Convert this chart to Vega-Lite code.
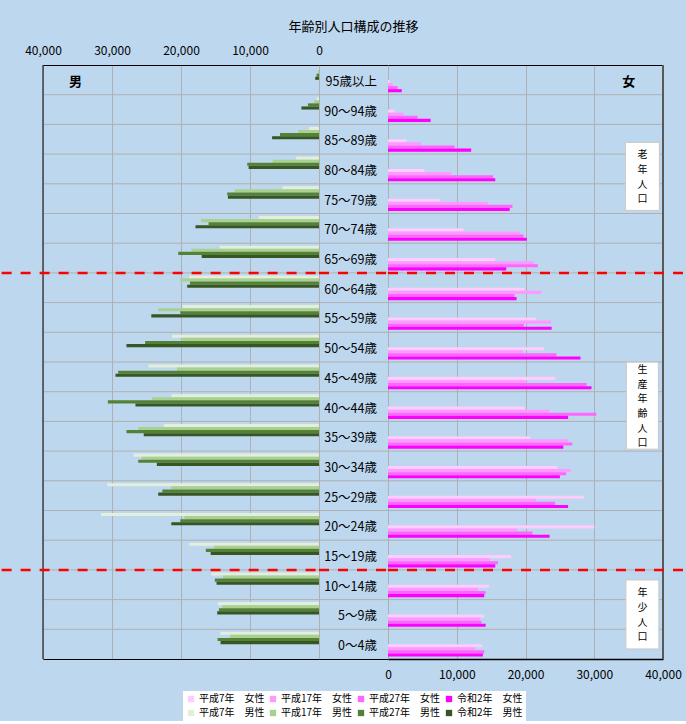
{
  "$schema": "https://vega.github.io/schema/vega-lite/v6.json",
  "background": "#bdd7ee",
  "padding": {"left": 0, "top": 21, "right": 0, "bottom": 0},
  "bounds": "flush",
  "spacing": 0,
  "datasets": {
    "male": [
      {"age": "95歳以上", "series": "平成7年　男性", "pop": 50}, {"age": "95歳以上", "series": "平成17年　男性", "pop": 150}, {"age": "95歳以上", "series": "平成27年　男性", "pop": 350}, {"age": "95歳以上", "series": "令和2年　男性", "pop": 550},
      {"age": "90～94歳", "series": "平成7年　男性", "pop": 330}, {"age": "90～94歳", "series": "平成17年　男性", "pop": 700}, {"age": "90～94歳", "series": "平成27年　男性", "pop": 1600}, {"age": "90～94歳", "series": "令和2年　男性", "pop": 2550},
      {"age": "85～89歳", "series": "平成7年　男性", "pop": 1450}, {"age": "85～89歳", "series": "平成17年　男性", "pop": 3000}, {"age": "85～89歳", "series": "平成27年　男性", "pop": 5650}, {"age": "85～89歳", "series": "令和2年　男性", "pop": 6800},
      {"age": "80～84歳", "series": "平成7年　男性", "pop": 3300}, {"age": "80～84歳", "series": "平成17年　男性", "pop": 6700}, {"age": "80～84歳", "series": "平成27年　男性", "pop": 10400}, {"age": "80～84歳", "series": "令和2年　男性", "pop": 10200},
      {"age": "75～79歳", "series": "平成7年　男性", "pop": 5300}, {"age": "75～79歳", "series": "平成17年　男性", "pop": 12200}, {"age": "75～79歳", "series": "平成27年　男性", "pop": 13300}, {"age": "75～79歳", "series": "令和2年　男性", "pop": 13200},
      {"age": "70～74歳", "series": "平成7年　男性", "pop": 8750}, {"age": "70～74歳", "series": "平成17年　男性", "pop": 17100}, {"age": "70～74歳", "series": "平成27年　男性", "pop": 16000}, {"age": "70～74歳", "series": "令和2年　男性", "pop": 17900},
      {"age": "65～69歳", "series": "平成7年　男性", "pop": 14400}, {"age": "65～69歳", "series": "平成17年　男性", "pop": 18500}, {"age": "65～69歳", "series": "平成27年　男性", "pop": 20400}, {"age": "65～69歳", "series": "令和2年　男性", "pop": 17000},
      {"age": "60～64歳", "series": "平成7年　男性", "pop": 18800}, {"age": "60～64歳", "series": "平成17年　男性", "pop": 20100}, {"age": "60～64歳", "series": "平成27年　男性", "pop": 18700}, {"age": "60～64歳", "series": "令和2年　男性", "pop": 19100},
      {"age": "55～59歳", "series": "平成7年　男性", "pop": 19800}, {"age": "55～59歳", "series": "平成17年　男性", "pop": 23300}, {"age": "55～59歳", "series": "平成27年　男性", "pop": 20100}, {"age": "55～59歳", "series": "令和2年　男性", "pop": 24300},
      {"age": "50～54歳", "series": "平成7年　男性", "pop": 21300}, {"age": "50～54歳", "series": "平成17年　男性", "pop": 19800}, {"age": "50～54歳", "series": "平成27年　男性", "pop": 25200}, {"age": "50～54歳", "series": "令和2年　男性", "pop": 27900},
      {"age": "45～49歳", "series": "平成7年　男性", "pop": 24700}, {"age": "45～49歳", "series": "平成17年　男性", "pop": 20600}, {"age": "45～49歳", "series": "平成27年　男性", "pop": 29100}, {"age": "45～49歳", "series": "令和2年　男性", "pop": 29500},
      {"age": "40～44歳", "series": "平成7年　男性", "pop": 21400}, {"age": "40～44歳", "series": "平成17年　男性", "pop": 24200}, {"age": "40～44歳", "series": "平成27年　男性", "pop": 30600}, {"age": "40～44歳", "series": "令和2年　男性", "pop": 26600},
      {"age": "35～39歳", "series": "平成7年　男性", "pop": 22500}, {"age": "35～39歳", "series": "平成17年　男性", "pop": 26200}, {"age": "35～39歳", "series": "平成27年　男性", "pop": 27900}, {"age": "35～39歳", "series": "令和2年　男性", "pop": 25400},
      {"age": "30～34歳", "series": "平成7年　男性", "pop": 26900}, {"age": "30～34歳", "series": "平成17年　男性", "pop": 25700}, {"age": "30～34歳", "series": "平成27年　男性", "pop": 26200}, {"age": "30～34歳", "series": "令和2年　男性", "pop": 23500},
      {"age": "25～29歳", "series": "平成7年　男性", "pop": 30700}, {"age": "25～29歳", "series": "平成17年　男性", "pop": 21400}, {"age": "25～29歳", "series": "平成27年　男性", "pop": 22700}, {"age": "25～29歳", "series": "令和2年　男性", "pop": 23300},
      {"age": "20～24歳", "series": "平成7年　男性", "pop": 31600}, {"age": "20～24歳", "series": "平成17年　男性", "pop": 19500}, {"age": "20～24歳", "series": "平成27年　男性", "pop": 20100}, {"age": "20～24歳", "series": "令和2年　男性", "pop": 21400},
      {"age": "15～19歳", "series": "平成7年　男性", "pop": 18800}, {"age": "15～19歳", "series": "平成17年　男性", "pop": 15200}, {"age": "15～19歳", "series": "平成27年　男性", "pop": 16400}, {"age": "15～19歳", "series": "令和2年　男性", "pop": 15700},
      {"age": "10～14歳", "series": "平成7年　男性", "pop": 15600}, {"age": "10～14歳", "series": "平成17年　男性", "pop": 13900}, {"age": "10～14歳", "series": "平成27年　男性", "pop": 15100}, {"age": "10～14歳", "series": "令和2年　男性", "pop": 14850},
      {"age": "5～9歳", "series": "平成7年　男性", "pop": 14650}, {"age": "5～9歳", "series": "平成17年　男性", "pop": 14000}, {"age": "5～9歳", "series": "平成27年　男性", "pop": 14500}, {"age": "5～9歳", "series": "令和2年　男性", "pop": 14750},
      {"age": "0～4歳", "series": "平成7年　男性", "pop": 14300}, {"age": "0～4歳", "series": "平成17年　男性", "pop": 12900}, {"age": "0～4歳", "series": "平成27年　男性", "pop": 14700}, {"age": "0～4歳", "series": "令和2年　男性", "pop": 14270}
    ],
    "female": [
      {"age": "95歳以上", "series": "平成7年　女性", "pop": 250}, {"age": "95歳以上", "series": "平成17年　女性", "pop": 680}, {"age": "95歳以上", "series": "平成27年　女性", "pop": 1400}, {"age": "95歳以上", "series": "令和2年　女性", "pop": 2000},
      {"age": "90～94歳", "series": "平成7年　女性", "pop": 970}, {"age": "90～94歳", "series": "平成17年　女性", "pop": 2270}, {"age": "90～94歳", "series": "平成27年　女性", "pop": 4300}, {"age": "90～94歳", "series": "令和2年　女性", "pop": 6200},
      {"age": "85～89歳", "series": "平成7年　女性", "pop": 2700}, {"age": "85～89歳", "series": "平成17年　女性", "pop": 4800}, {"age": "85～89歳", "series": "平成27年　女性", "pop": 9700}, {"age": "85～89歳", "series": "令和2年　女性", "pop": 12100},
      {"age": "80～84歳", "series": "平成7年　女性", "pop": 5300}, {"age": "80～84歳", "series": "平成17年　女性", "pop": 9200}, {"age": "80～84歳", "series": "平成27年　女性", "pop": 15300}, {"age": "80～84歳", "series": "令和2年　女性", "pop": 15600},
      {"age": "75～79歳", "series": "平成7年　女性", "pop": 7500}, {"age": "75～79歳", "series": "平成17年　女性", "pop": 14500}, {"age": "75～79歳", "series": "平成27年　女性", "pop": 18100}, {"age": "75～79歳", "series": "令和2年　女性", "pop": 17700},
      {"age": "70～74歳", "series": "平成7年　女性", "pop": 11000}, {"age": "70～74歳", "series": "平成17年　女性", "pop": 19200}, {"age": "70～74歳", "series": "平成27年　女性", "pop": 19700}, {"age": "70～74歳", "series": "令和2年　女性", "pop": 20200},
      {"age": "65～69歳", "series": "平成7年　女性", "pop": 15600}, {"age": "65～69歳", "series": "平成17年　女性", "pop": 21200}, {"age": "65～69歳", "series": "平成27年　女性", "pop": 21800}, {"age": "65～69歳", "series": "令和2年　女性", "pop": 17200},
      {"age": "60～64歳", "series": "平成7年　女性", "pop": 19850}, {"age": "60～64歳", "series": "平成17年　女性", "pop": 22300}, {"age": "60～64歳", "series": "平成27年　女性", "pop": 18400}, {"age": "60～64歳", "series": "令和2年　女性", "pop": 18700},
      {"age": "55～59歳", "series": "平成7年　女性", "pop": 21500}, {"age": "55～59歳", "series": "平成17年　女性", "pop": 23700}, {"age": "55～59歳", "series": "平成27年　女性", "pop": 19750}, {"age": "55～59歳", "series": "令和2年　女性", "pop": 23800},
      {"age": "50～54歳", "series": "平成7年　女性", "pop": 22700}, {"age": "50～54歳", "series": "平成17年　女性", "pop": 19600}, {"age": "50～54歳", "series": "平成27年　女性", "pop": 24500}, {"age": "50～54歳", "series": "令和2年　女性", "pop": 28000},
      {"age": "45～49歳", "series": "平成7年　女性", "pop": 24300}, {"age": "45～49歳", "series": "平成17年　女性", "pop": 20000}, {"age": "45～49歳", "series": "平成27年　女性", "pop": 28900}, {"age": "45～49歳", "series": "令和2年　女性", "pop": 29600},
      {"age": "40～44歳", "series": "平成7年　女性", "pop": 19850}, {"age": "40～44歳", "series": "平成17年　女性", "pop": 23500}, {"age": "40～44歳", "series": "平成27年　女性", "pop": 30300}, {"age": "40～44歳", "series": "令和2年　女性", "pop": 26200},
      {"age": "35～39歳", "series": "平成7年　女性", "pop": 20700}, {"age": "35～39歳", "series": "平成17年　女性", "pop": 26200}, {"age": "35～39歳", "series": "平成27年　女性", "pop": 26800}, {"age": "35～39歳", "series": "令和2年　女性", "pop": 25500},
      {"age": "30～34歳", "series": "平成7年　女性", "pop": 24600}, {"age": "30～34歳", "series": "平成17年　女性", "pop": 26600}, {"age": "30～34歳", "series": "平成27年　女性", "pop": 25900}, {"age": "30～34歳", "series": "令和2年　女性", "pop": 25000},
      {"age": "25～29歳", "series": "平成7年　女性", "pop": 28500}, {"age": "25～29歳", "series": "平成17年　女性", "pop": 21500}, {"age": "25～29歳", "series": "平成27年　女性", "pop": 24300}, {"age": "25～29歳", "series": "令和2年　女性", "pop": 26200},
      {"age": "20～24歳", "series": "平成7年　女性", "pop": 30000}, {"age": "20～24歳", "series": "平成17年　女性", "pop": 18800}, {"age": "20～24歳", "series": "平成27年　女性", "pop": 21000}, {"age": "20～24歳", "series": "令和2年　女性", "pop": 23500},
      {"age": "15～19歳", "series": "平成7年　女性", "pop": 17900}, {"age": "15～19歳", "series": "平成17年　女性", "pop": 14800}, {"age": "15～19歳", "series": "平成27年　女性", "pop": 16000}, {"age": "15～19歳", "series": "令和2年　女性", "pop": 15600},
      {"age": "10～14歳", "series": "平成7年　女性", "pop": 14700}, {"age": "10～14歳", "series": "平成17年　女性", "pop": 13100}, {"age": "10～14歳", "series": "平成27年　女性", "pop": 14200}, {"age": "10～14歳", "series": "令和2年　女性", "pop": 14000},
      {"age": "5～9歳", "series": "平成7年　女性", "pop": 14000}, {"age": "5～9歳", "series": "平成17年　女性", "pop": 13400}, {"age": "5～9歳", "series": "平成27年　女性", "pop": 13600}, {"age": "5～9歳", "series": "令和2年　女性", "pop": 14200},
      {"age": "0～4歳", "series": "平成7年　女性", "pop": 13700}, {"age": "0～4歳", "series": "平成17年　女性", "pop": 12700}, {"age": "0～4歳", "series": "平成27年　女性", "pop": 14000}, {"age": "0～4歳", "series": "令和2年　女性", "pop": 13800}
    ],
    "ages": [
      {"age": "95歳以上"}, {"age": "90～94歳"}, {"age": "85～89歳"}, {"age": "80～84歳"}, {"age": "75～79歳"}, {"age": "70～74歳"}, {"age": "65～69歳"}, {"age": "60～64歳"}, {"age": "55～59歳"}, {"age": "50～54歳"},
      {"age": "45～49歳"}, {"age": "40～44歳"}, {"age": "35～39歳"}, {"age": "30～34歳"}, {"age": "25～29歳"}, {"age": "20～24歳"}, {"age": "15～19歳"}, {"age": "10～14歳"}, {"age": "5～9歳"}, {"age": "0～4歳"}
    ],
    "cuts": [{"age": "60～64歳"}, {"age": "10～14歳"}]
  },
  "hconcat": [
    {
      "width": 276,
      "height": 594,
      "layer": [
        {
          "data": {"name": "ages"},
          "transform": [{"filter": "datum.age !== '95歳以上'"}],
          "mark": {"type": "rule", "color": "#b0b0b0", "strokeWidth": 1},
          "encoding": {
            "y": {"field": "age", "type": "nominal", "bandPosition": 0, "scale": {"domain": ["95歳以上", "90～94歳", "85～89歳", "80～84歳", "75～79歳", "70～74歳", "65～69歳", "60～64歳", "55～59歳", "50～54歳", "45～49歳", "40～44歳", "35～39歳", "30～34歳", "25～29歳", "20～24歳", "15～19歳", "10～14歳", "5～9歳", "0～4歳"], "paddingInner": 0, "paddingOuter": 0}, "axis": null}
          }
        },
        {
          "data": {"name": "male"},
          "mark": {"type": "bar"},
          "encoding": {
            "y": {"field": "age", "type": "nominal", "axis": null},
            "yOffset": {"field": "series", "type": "nominal", "scale": {"domain": ["平成7年　男性", "平成17年　男性", "平成27年　男性", "令和2年　男性"], "paddingInner": 0, "paddingOuter": 0.8}},
            "x": {"field": "pop", "type": "quantitative", "scale": {"domain": [0, 40000], "reverse": true, "nice": false},
              "axis": {"orient": "top", "title": null, "values": [0, 10000, 20000, 30000, 40000], "format": ",.0f", "labelFlush": false, "labelPadding": 8, "ticks": false, "domainColor": "#000", "grid": true}},
            "color": {"field": "series", "type": "nominal",
              "scale": {"domain": ["平成7年　女性", "平成17年　女性", "平成27年　女性", "令和2年　女性", "平成7年　男性", "平成17年　男性", "平成27年　男性", "令和2年　男性"], "range": ["#ffccff", "#ff99ff", "#ff66ff", "#ff00ff", "#e2efda", "#a9d08e", "#548235", "#375623"]},
              "legend": {"orient": "none", "legendX": 140, "legendY": 626, "title": null, "columns": 4, "direction": "horizontal", "symbolType": "square", "symbolSize": 40, "symbolStrokeWidth": 0, "labelFontSize": 10, "labelFont": "Noto Sans CJK JP", "labelColor": "#000", "fillColor": "#ffffff", "padding": 3, "rowPadding": 4, "columnPadding": 3, "labelOffset": 3, "gridAlign": "each"}}
          }
        },
        {
          "data": {"values": [{}]},
          "mark": {"type": "rule", "color": "#000", "strokeWidth": 1},
          "encoding": {
            "x": {"datum": 40000, "type": "quantitative", "axis": null}
          }
        },
        {
          "data": {"name": "cuts"},
          "mark": {"type": "rule", "color": "#ff0000", "strokeWidth": 2.5, "strokeDash": [10, 9]},
          "encoding": {
            "y": {"field": "age", "type": "nominal", "bandPosition": 0, "axis": null},
            "x": {"datum": 46000, "type": "quantitative",
              "axis": {"orient": "bottom", "title": null, "labels": false, "ticks": false, "grid": false, "domainColor": "#000"}},
            "x2": {"datum": 0}
          }
        },
        {
          "data": {"values": [{}]},
          "mark": {"type": "text", "fontSize": 13, "fontWeight": "bold", "dy": 2, "font": "Noto Sans CJK JP", "color": "#000"},
          "encoding": {
            "y": {"datum": "95歳以上", "type": "nominal", "axis": null},
            "x": {"datum": 35300, "type": "quantitative", "axis": null},
            "text": {"value": "男"}
          }
        }
      ],
      "resolve": {"axis": {"x": "independent"}}
    },
    {
      "width": 69,
      "height": 594,
      "title": {"text": "年齢別人口構成の推移", "anchor": "middle", "fontSize": 13, "fontWeight": "normal", "font": "Noto Sans CJK JP", "color": "#000", "offset": 31},
      "layer": [
        {
          "data": {"name": "ages"},
          "transform": [{"filter": "datum.age !== '95歳以上'"}],
          "mark": {"type": "rule", "color": "#b0b0b0", "strokeWidth": 1},
          "encoding": {
            "y": {"field": "age", "type": "nominal", "bandPosition": 0, "scale": {"domain": ["95歳以上", "90～94歳", "85～89歳", "80～84歳", "75～79歳", "70～74歳", "65～69歳", "60～64歳", "55～59歳", "50～54歳", "45～49歳", "40～44歳", "35～39歳", "30～34歳", "25～29歳", "20～24歳", "15～19歳", "10～14歳", "5～9歳", "0～4歳"], "paddingInner": 0, "paddingOuter": 0}, "axis": null}
          }
        },
        {
          "data": {"name": "ages"},
          "mark": {"type": "text", "align": "right", "baseline": "middle", "fontSize": 12.5, "dx": -11, "dy": 2, "font": "Noto Sans CJK JP", "color": "#000"},
          "encoding": {
            "y": {"field": "age", "type": "nominal", "axis": null},
            "x": {"datum": 1, "type": "quantitative", "scale": {"domain": [0, 1], "nice": false},
              "axis": {"orient": "top", "title": null, "labels": false, "ticks": false, "grid": false, "domainColor": "#000"}},
            "text": {"field": "age"}
          }
        },
        {
          "data": {"name": "cuts"},
          "mark": {"type": "rule", "color": "#ff0000", "strokeWidth": 2.5, "strokeDash": [10, 9]},
          "encoding": {
            "y": {"field": "age", "type": "nominal", "bandPosition": 0, "axis": null},
            "x": {"datum": 0, "type": "quantitative",
              "axis": {"orient": "bottom", "title": null, "labels": false, "ticks": false, "grid": false, "domainColor": "#000"}},
            "x2": {"datum": 1}
          }
        }
      ],
      "resolve": {"axis": {"x": "independent"}}
    },
    {
      "width": 275,
      "height": 594,
      "layer": [
        {
          "data": {"name": "ages"},
          "transform": [{"filter": "datum.age !== '95歳以上'"}],
          "mark": {"type": "rule", "color": "#b0b0b0", "strokeWidth": 1},
          "encoding": {
            "y": {"field": "age", "type": "nominal", "bandPosition": 0, "scale": {"domain": ["95歳以上", "90～94歳", "85～89歳", "80～84歳", "75～79歳", "70～74歳", "65～69歳", "60～64歳", "55～59歳", "50～54歳", "45～49歳", "40～44歳", "35～39歳", "30～34歳", "25～29歳", "20～24歳", "15～19歳", "10～14歳", "5～9歳", "0～4歳"], "paddingInner": 0, "paddingOuter": 0}, "axis": null}
          }
        },
        {
          "data": {"name": "female"},
          "mark": {"type": "bar"},
          "encoding": {
            "y": {"field": "age", "type": "nominal", "axis": null},
            "yOffset": {"field": "series", "type": "nominal", "scale": {"domain": ["平成7年　女性", "平成17年　女性", "平成27年　女性", "令和2年　女性"], "paddingInner": 0, "paddingOuter": 0.8}},
            "x": {"field": "pop", "type": "quantitative", "scale": {"domain": [0, 40000], "nice": false},
              "axis": {"orient": "bottom", "title": null, "values": [0, 10000, 20000, 30000, 40000], "format": ",.0f", "labelFlush": false, "labelPadding": 10, "ticks": false, "domainColor": "#000", "domainWidth": 1.5, "grid": true}},
            "color": {"field": "series", "type": "nominal",
              "scale": {"domain": ["平成7年　女性", "平成17年　女性", "平成27年　女性", "令和2年　女性", "平成7年　男性", "平成17年　男性", "平成27年　男性", "令和2年　男性"], "range": ["#ffccff", "#ff99ff", "#ff66ff", "#ff00ff", "#e2efda", "#a9d08e", "#548235", "#375623"]},
              "legend": {"orient": "none", "legendX": 140, "legendY": 626, "title": null, "columns": 4, "direction": "horizontal", "symbolType": "square", "symbolSize": 40, "symbolStrokeWidth": 0, "labelFontSize": 10, "labelFont": "Noto Sans CJK JP", "labelColor": "#000", "fillColor": "#ffffff", "padding": 3, "rowPadding": 4, "columnPadding": 3, "labelOffset": 3, "gridAlign": "each"}}
          }
        },
        {
          "data": {"values": [{}]},
          "mark": {"type": "rule", "color": "#595959", "strokeWidth": 2},
          "encoding": {
            "x": {"datum": 40000, "type": "quantitative", "axis": null}
          }
        },
        {
          "data": {"name": "cuts"},
          "mark": {"type": "rule", "color": "#ff0000", "strokeWidth": 2.5, "strokeDash": [10, 9]},
          "encoding": {
            "y": {"field": "age", "type": "nominal", "bandPosition": 0, "axis": null},
            "x": {"datum": 0, "type": "quantitative",
              "axis": {"orient": "top", "title": null, "labels": false, "ticks": false, "grid": false, "domainColor": "#000"}},
            "x2": {"datum": 43200}
          }
        },
        {
          "data": {"values": [{}]},
          "mark": {"type": "text", "fontSize": 13, "fontWeight": "bold", "dy": 2, "font": "Noto Sans CJK JP", "color": "#000"},
          "encoding": {
            "y": {"datum": "95歳以上", "type": "nominal", "axis": null},
            "x": {"datum": 35000, "type": "quantitative", "axis": null},
            "text": {"value": "女"}
          }
        },
        {
          "data": {"values": [{}]},
          "mark": {"type": "point", "shape": "M-0.5,-1L0.5,-1L0.5,1L-0.5,1Z", "size": 4624, "filled": true, "fill": "#ffffff", "stroke": "#c8c8c8", "strokeWidth": 1, "opacity": 1},
          "encoding": {
            "y": {"datum": "80～84歳", "type": "nominal", "bandPosition": 0.75, "axis": null},
            "x": {"datum": 37000, "type": "quantitative", "axis": null}
          }
        },
        {
          "data": {"values": [{}]},
          "mark": {"type": "point", "shape": "M-0.368,-1L0.368,-1L0.368,1L-0.368,1Z", "size": 7569, "filled": true, "fill": "#ffffff", "stroke": "#c8c8c8", "strokeWidth": 1, "opacity": 1},
          "encoding": {
            "y": {"datum": "40～44歳", "type": "nominal", "bandPosition": 0.47, "axis": null},
            "x": {"datum": 37000, "type": "quantitative", "axis": null}
          }
        },
        {
          "data": {"values": [{}]},
          "mark": {"type": "point", "shape": "M-0.478,-1L0.478,-1L0.478,1L-0.478,1Z", "size": 4761, "filled": true, "fill": "#ffffff", "stroke": "#c8c8c8", "strokeWidth": 1, "opacity": 1},
          "encoding": {
            "y": {"datum": "5～9歳", "type": "nominal", "bandPosition": 0.5, "axis": null},
            "x": {"datum": 37000, "type": "quantitative", "axis": null}
          }
        },
        {
          "data": {"values": [{}]},
          "mark": {"type": "text", "fontSize": 10, "lineHeight": 14.6, "baseline": "middle", "dy": -21, "font": "Noto Sans CJK JP", "color": "#000"},
          "encoding": {
            "y": {"datum": "80～84歳", "type": "nominal", "bandPosition": 0.75, "axis": null},
            "x": {"datum": 37000, "type": "quantitative", "axis": null},
            "text": {"value": ["老", "年", "人", "口"]}
          }
        },
        {
          "data": {"values": [{}]},
          "mark": {"type": "text", "fontSize": 10, "lineHeight": 14.6, "baseline": "middle", "dy": -35.5, "font": "Noto Sans CJK JP", "color": "#000"},
          "encoding": {
            "y": {"datum": "40～44歳", "type": "nominal", "bandPosition": 0.47, "axis": null},
            "x": {"datum": 37000, "type": "quantitative", "axis": null},
            "text": {"value": ["生", "産", "年", "齢", "人", "口"]}
          }
        },
        {
          "data": {"values": [{}]},
          "mark": {"type": "text", "fontSize": 10, "lineHeight": 14.6, "baseline": "middle", "dy": -21, "font": "Noto Sans CJK JP", "color": "#000"},
          "encoding": {
            "y": {"datum": "5～9歳", "type": "nominal", "bandPosition": 0.5, "axis": null},
            "x": {"datum": 37000, "type": "quantitative", "axis": null},
            "text": {"value": ["年", "少", "人", "口"]}
          }
        }
      ],
      "resolve": {"axis": {"x": "independent"}}
    }
  ],
  "config": {
    "view": {"stroke": null},
    "font": "Noto Sans CJK JP",
    "axis": {"labelFont": "Noto Sans CJK JP", "labelFontSize": 12, "labelColor": "#000", "gridColor": "#b0b0b0", "gridWidth": 1, "gridOpacity": 1}
  }
}
